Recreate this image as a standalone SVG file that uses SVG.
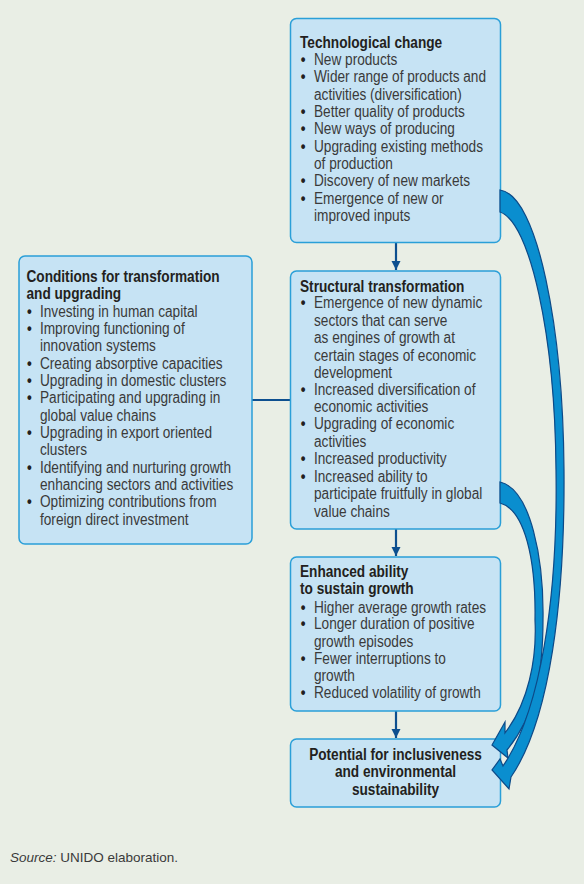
<svg xmlns="http://www.w3.org/2000/svg" width="584" height="884" viewBox="0 0 584 884">
<defs>
<style>
.bg{fill:#e9eee5}
.box{fill:#c6e3f4;stroke:#2a9fd8;stroke-width:1.5}
.t{font-family:"Liberation Sans",Arial,sans-serif;font-size:15.6px;fill:#3a3a3a}
.h{font-weight:bold;fill:#231f20}
.b{font-weight:bold;fill:#231f20}
.con{stroke:#0d4f8f;stroke-width:2.2;fill:none}
.big{fill:#0a8ecf;stroke:#0d4a88;stroke-width:1.2;stroke-linejoin:miter}
.src{font-family:"Liberation Sans",Arial,sans-serif;font-size:13.5px;fill:#3a3a3a}
</style>
<marker id="ah" markerUnits="userSpaceOnUse" markerWidth="10" markerHeight="10" refX="9" refY="4.5" orient="auto">
<path d="M0,0 L9,4.5 L0,9 z" fill="#0d4f8f"/>
</marker>
</defs>
<rect class="bg" x="0" y="0" width="584" height="884"/>

<g id="connectors">
<line class="con" x1="396" y1="243" x2="396" y2="270" marker-end="url(#ah)"/>
<line class="con" x1="396" y1="529" x2="396" y2="556" marker-end="url(#ah)"/>
<line class="con" x1="396" y1="711" x2="396" y2="738" marker-end="url(#ah)"/>
<line class="con" x1="252" y1="400" x2="290" y2="400"/>
</g>

<g id="tech">
<rect class="box" x="290.5" y="18.5" width="210" height="224" rx="6"/>
<g class="t" transform="translate(300 0) scale(0.875 1)">
<text class="h" x="0" y="48">Technological change</text>
<text y="65"><tspan class="b" x="1">•</tspan><tspan x="16">New products</tspan></text>
<text y="82.5"><tspan class="b" x="1">•</tspan><tspan x="16">Wider range of products and</tspan></text>
<text x="16" y="100">activities (diversification)</text>
<text y="117"><tspan class="b" x="1">•</tspan><tspan x="16">Better quality of products</tspan></text>
<text y="134.3"><tspan class="b" x="1">•</tspan><tspan x="16">New ways of producing</tspan></text>
<text y="151.7"><tspan class="b" x="1">•</tspan><tspan x="16">Upgrading existing methods</tspan></text>
<text x="16" y="169">of production</text>
<text y="186.3"><tspan class="b" x="1">•</tspan><tspan x="16">Discovery of new markets</tspan></text>
<text y="203.7"><tspan class="b" x="1">•</tspan><tspan x="16">Emergence of new or</tspan></text>
<text x="16" y="221">improved inputs</text>
</g>
</g>

<g id="structural">
<rect class="box" x="290.5" y="271" width="210" height="258" rx="6"/>
<g class="t" transform="translate(300 0) scale(0.875 1)">
<text class="h" x="0" y="291.7">Structural transformation</text>
<text y="308.3"><tspan class="b" x="1">•</tspan><tspan x="16">Emergence of new dynamic</tspan></text>
<text x="16" y="325.7">sectors that can serve</text>
<text x="16" y="343">as engines of growth at</text>
<text x="16" y="360.7">certain stages of economic</text>
<text x="16" y="377.7">development</text>
<text y="395"><tspan class="b" x="1">•</tspan><tspan x="16">Increased diversification of</tspan></text>
<text x="16" y="412.3">economic activities</text>
<text y="429.3"><tspan class="b" x="1">•</tspan><tspan x="16">Upgrading of economic</tspan></text>
<text x="16" y="446.7">activities</text>
<text y="464"><tspan class="b" x="1">•</tspan><tspan x="16">Increased productivity</tspan></text>
<text y="481.7"><tspan class="b" x="1">•</tspan><tspan x="16">Increased ability to</tspan></text>
<text x="16" y="499">participate fruitfully in global</text>
<text x="16" y="516.7">value chains</text>
</g>
</g>

<g id="conditions">
<rect class="box" x="19" y="256" width="233" height="288" rx="6"/>
<g class="t" transform="translate(26.5 0) scale(0.875 1)">
<text class="h" x="0" y="281.7">Conditions for transformation</text>
<text class="h" x="0" y="299.3">and upgrading</text>
<text y="316.7"><tspan class="b" x="0.5">•</tspan><tspan x="15.4">Investing in human capital</tspan></text>
<text y="334"><tspan class="b" x="0.5">•</tspan><tspan x="15.4">Improving functioning of</tspan></text>
<text x="15.4" y="351.3">innovation systems</text>
<text y="369"><tspan class="b" x="0.5">•</tspan><tspan x="15.4">Creating absorptive capacities</tspan></text>
<text y="386"><tspan class="b" x="0.5">•</tspan><tspan x="15.4">Upgrading in domestic clusters</tspan></text>
<text y="403.3"><tspan class="b" x="0.5">•</tspan><tspan x="15.4">Participating and upgrading in</tspan></text>
<text x="15.4" y="420.7">global value chains</text>
<text y="438.3"><tspan class="b" x="0.5">•</tspan><tspan x="15.4">Upgrading in export oriented</tspan></text>
<text x="15.4" y="455">clusters</text>
<text y="472.7"><tspan class="b" x="0.5">•</tspan><tspan x="15.4">Identifying and nurturing growth</tspan></text>
<text x="15.4" y="490">enhancing sectors and activities</text>
<text y="507.3"><tspan class="b" x="0.5">•</tspan><tspan x="15.4">Optimizing contributions from</tspan></text>
<text x="15.4" y="525">foreign direct investment</text>
</g>
</g>

<g id="enhanced">
<rect class="box" x="290.5" y="557" width="210" height="154" rx="6"/>
<g class="t" transform="translate(300 0) scale(0.875 1)">
<text class="h" x="0" y="577.3">Enhanced ability</text>
<text class="h" x="0" y="594.3">to sustain growth</text>
<text y="612.7"><tspan class="b" x="1">•</tspan><tspan x="16">Higher average growth rates</tspan></text>
<text y="629.3"><tspan class="b" x="1">•</tspan><tspan x="16">Longer duration of positive</tspan></text>
<text x="16" y="646.7">growth episodes</text>
<text y="664"><tspan class="b" x="1">•</tspan><tspan x="16">Fewer interruptions to</tspan></text>
<text x="16" y="680.7">growth</text>
<text y="698.3"><tspan class="b" x="1">•</tspan><tspan x="16">Reduced volatility of growth</tspan></text>
</g>
</g>

<g id="potential">
<rect class="box" x="290.5" y="739" width="210" height="68" rx="6"/>
<g class="t h" transform="translate(395.5 0) scale(0.875 1)" text-anchor="middle">
<text x="0" y="760">Potential for inclusiveness</text>
<text x="0" y="777.3">and environmental</text>
<text x="0" y="795">sustainability</text>
</g>
</g>

<g id="curved-arrows">
<path class="big" d="M500,482 C531,489 544,560 543,620 C543,670 536,715 507,750 L508,758 L492,745 L505,722 L505,733 C528,703 537,660 535,620 C536,560 525,510 500,503 Z"/>
<path class="big" d="M500,190 C538,195 563,330 564,470 C565,600 550,720 511,777 L509,789 L492,770 L500,759 L503,766 C540,712 558,600 556,470 C555,335 530,222 500,212 Z"/>
</g>

<text class="src" x="10" y="861.5"><tspan font-style="italic">Source:</tspan> UNIDO elaboration.</text>
</svg>
